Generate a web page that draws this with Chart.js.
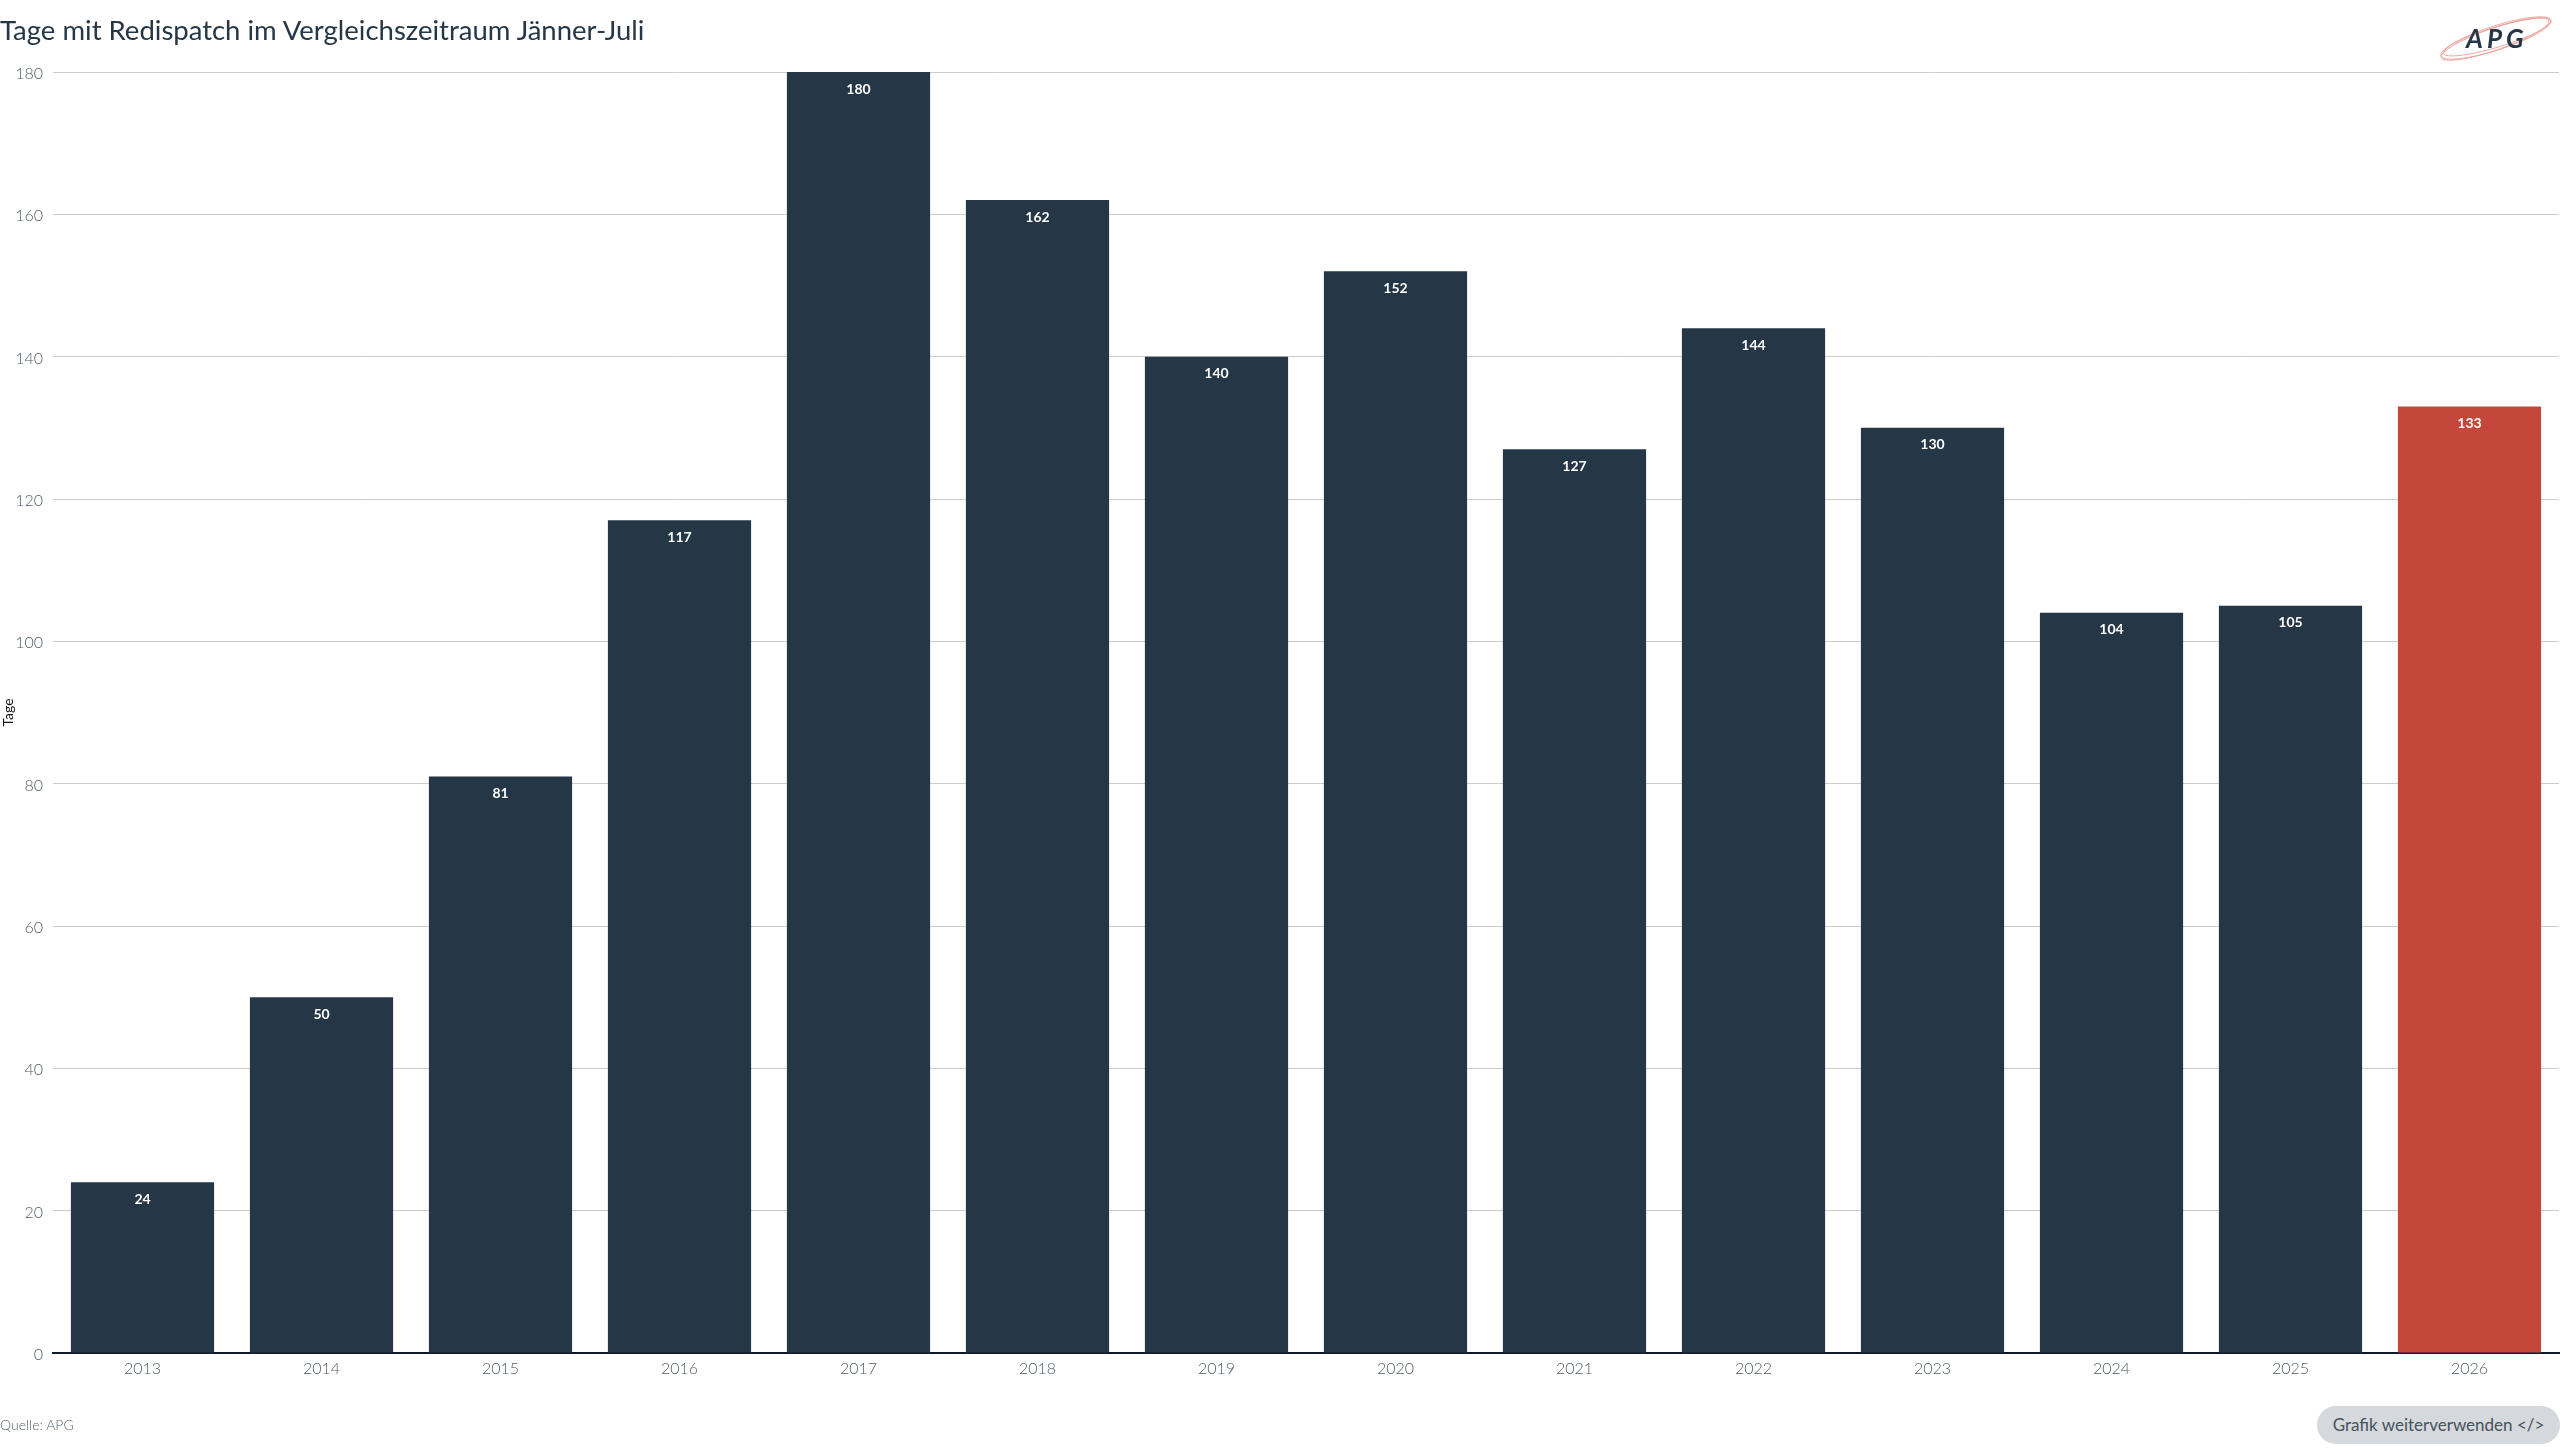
<!DOCTYPE html>
<html lang="de">
<head>
<meta charset="utf-8">
<title>Tage mit Redispatch</title>
<script src="https://cdn.jsdelivr.net/npm/chart.js@4/dist/chart.umd.min.js"></script>
<style>
  html, body { margin: 0; padding: 0; background: #fff; }
  body { width: 2568px; height: 1452px; position: relative; overflow: hidden; font-family: Lato, "Open Sans", sans-serif; }
  #title { position: absolute; left: 0; top: 13px; font-size: 27.5px; color: #253746; white-space: nowrap; }
  #logo { position: absolute; left: 2436px; top: 8px; }
  #chartWrap { position: absolute; left: 0; top: 0; width: 2568px; height: 1452px; }
  #source { position: absolute; left: 0; top: 1416px; font-size: 14px; color: #5b6670; font-weight: 300; }
  #reuse { position: absolute; left: 2317px; top: 1406px; width: 243px; height: 38px; border-radius: 19px;
           background: #d5d9dd; color: #46525c; font-size: 17px; line-height: 38px; text-align: center; white-space: nowrap; }
</style>
</head>
<body>
<div id="chartWrap"><canvas id="chart"></canvas></div>
<div id="title">Tage mit Redispatch im Vergleichszeitraum Jänner-Juli</div>
<svg id="logo" width="124" height="60" viewBox="0 0 124 60">
  <g fill="none" stroke="#e8847c" stroke-width="0.8" opacity="0.8">
    <ellipse cx="60" cy="30" rx="58" ry="12" transform="rotate(-18 60 30)"/>
    <ellipse cx="61" cy="29" rx="56" ry="10" transform="rotate(-17 61 29)"/>
    <ellipse cx="59" cy="31" rx="57" ry="11" transform="rotate(-19 59 31)"/>
  </g>
  <text x="30" y="40" font-family="Lato, sans-serif" font-size="26" font-weight="700" font-style="italic" fill="#253746" letter-spacing="4">APG</text>
</svg>
<div id="source">Quelle: APG</div>
<div id="reuse">Grafik weiterverwenden &lt;/&gt;</div>

<script>
// ─── Data ─────────────────────────────────────────────────────────────────────
const years    = ['2013', '2014', '2015', '2016', '2017', '2018', '2019',
                  '2020', '2021', '2022', '2023', '2024', '2025', '2026'];
const daysWithRedispatch = [24, 50, 81, 117, 180, 162, 140, 152, 127, 144, 130, 104, 105, 133];
const yTicks   = [0, 20, 40, 60, 80, 100, 120, 140, 160, 180];

const NAVY = '#253746';
const RED  = '#c5473c';
const FONT = 'Lato, "Open Sans", sans-serif';

// ─── Value labels inside the bars ─────────────────────────────────────────────
const barLabels = {
  id: 'barLabels',
  afterDatasetsDraw(chart) {
    const { ctx } = chart;
    const meta = chart.getDatasetMeta(0);
    ctx.save();
    ctx.fillStyle = '#ffffff';
    ctx.font = `bold 14px ${FONT}`;
    ctx.textAlign = 'center';
    ctx.textBaseline = 'top';
    meta.data.forEach((bar, i) => {
      ctx.fillText(String(daysWithRedispatch[i]), bar.x, bar.y + 10);
    });
    ctx.restore();
  }
};

// ─── Chart ────────────────────────────────────────────────────────────────────
new Chart(document.getElementById('chart'), {
  type: 'bar',
  data: {
    labels: years,
    datasets: [{
      label: 'Tage',
      data: daysWithRedispatch,
      backgroundColor: years.map(y => y === '2026' ? RED : NAVY),
      barPercentage: 0.8,
      categoryPercentage: 1.0,
      borderWidth: 0,
    }]
  },
  options: {
    responsive: true,
    maintainAspectRatio: false,
    animation: false,
    layout: { padding: { top: 72, right: 9, bottom: 0, left: 0 } },
    plugins: {
      legend: { display: false },
      tooltip: { enabled: false },
    },
    scales: {
      x: {
        grid: { display: false, drawTicks: false },
        border: { display: true, color: '#0d1b2a', width: 2 },
        ticks: { color: '#505b66', padding: 6, font: { family: FONT, size: 16, weight: 300 } },
        afterFit: s => { s.height = 99; },
      },
      y: {
        min: 0,
        max: 180,
        afterBuildTicks: s => { s.ticks = yTicks.map(v => ({ value: v })); },
        grid: { color: '#cccccc', lineWidth: 1, drawTicks: false },
        border: { display: false },
        ticks: { color: '#505b66', padding: 10, labelOffset: 2, font: { family: FONT, size: 16, weight: 300 } },
        title: { display: true, text: 'Tage', color: '#111111', padding: 0, font: { family: FONT, size: 14 } },
        afterFit: s => { s.width = 53; },
      }
    }
  },
  plugins: [barLabels]
});
</script>
</body>
</html>
